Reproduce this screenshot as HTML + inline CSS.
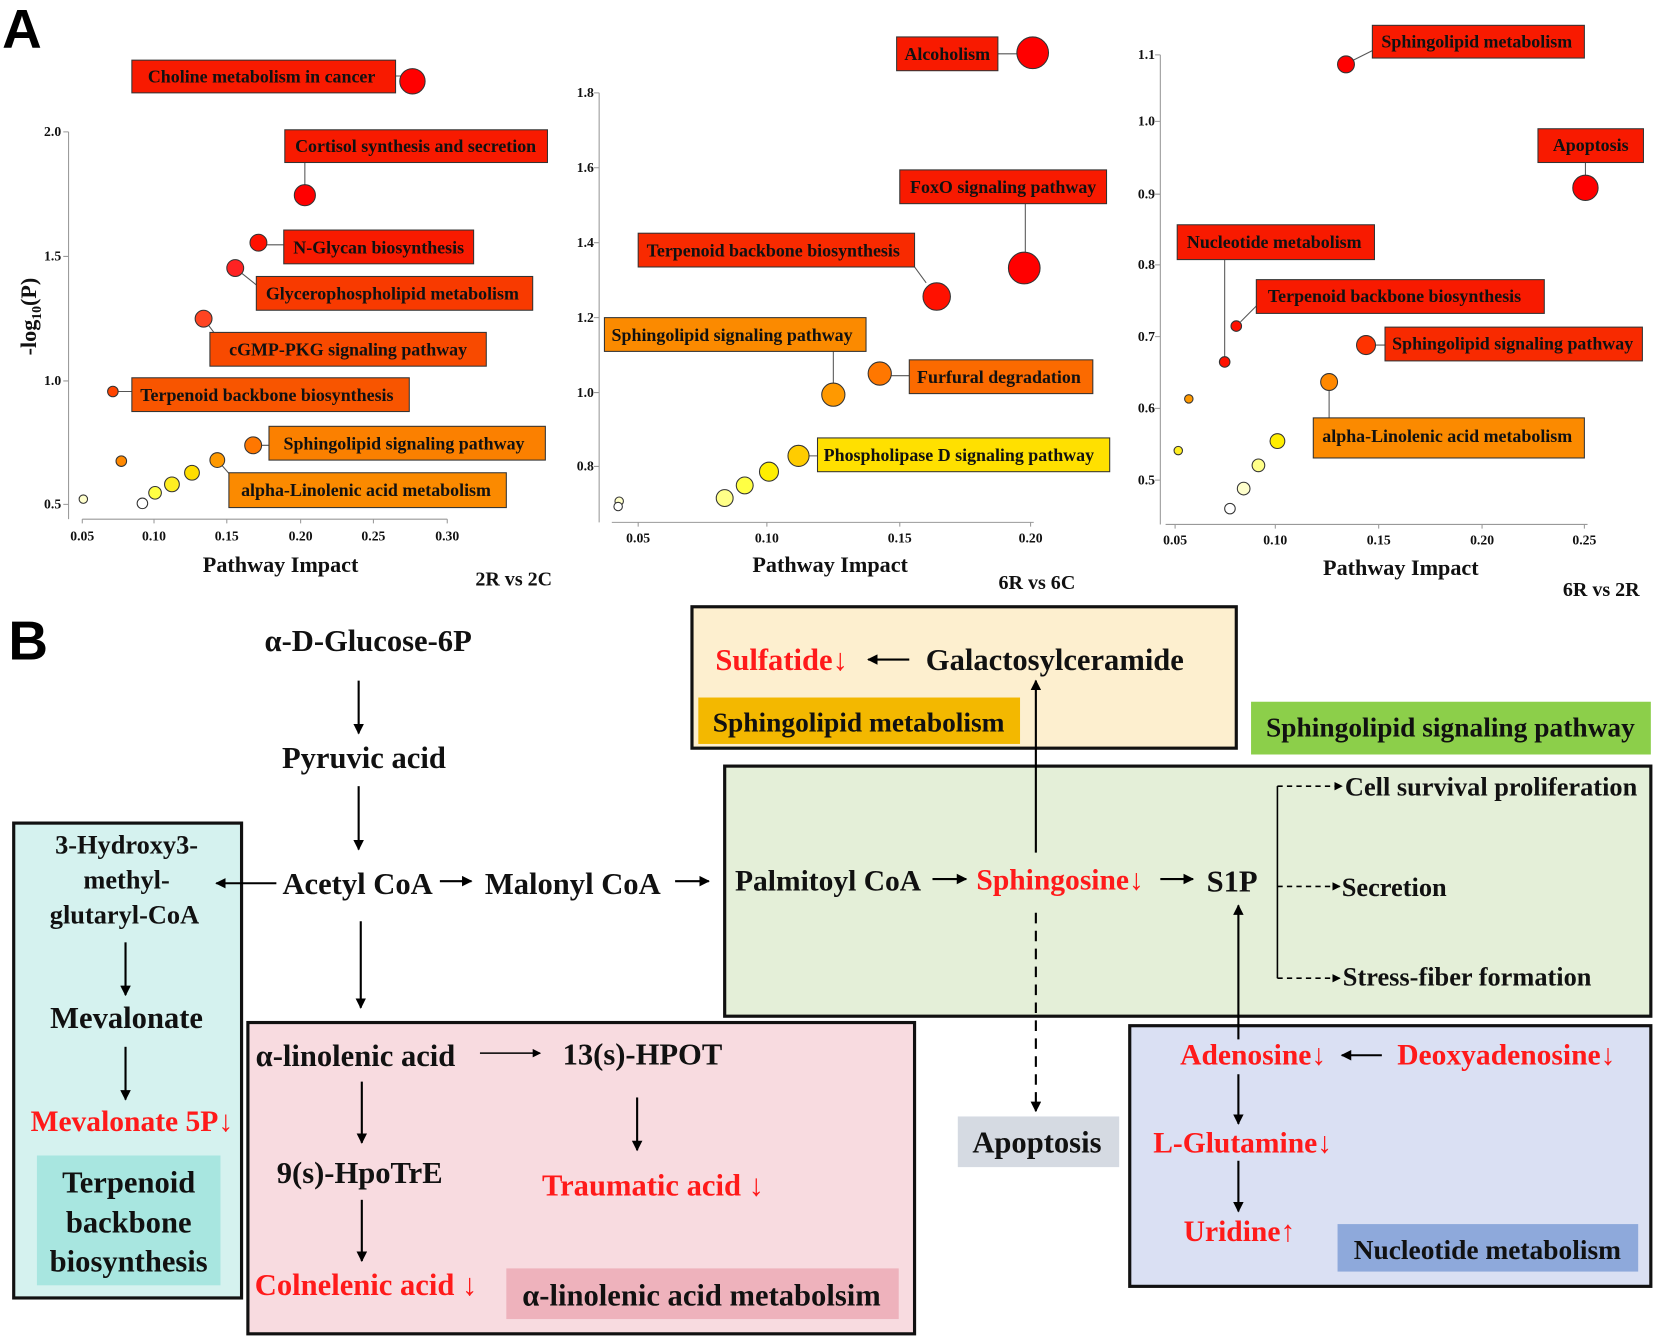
<!DOCTYPE html>
<html><head><meta charset="utf-8"><style>
html,body{margin:0;padding:0;background:#fff;}
svg{display:block;}
text{font-family:"Liberation Serif",serif;font-weight:bold;}
.s{font-size:17px;fill:#111;}
.t{font-size:13px;fill:#111;}
.ax{font-size:21px;fill:#111;}
.b{font-size:29px;fill:#111;}
.r{fill:#ff1a1a;}
</style></head><body>
<svg width="1654" height="1337" viewBox="0 0 1568 1267" preserveAspectRatio="none" xmlns="http://www.w3.org/2000/svg">
<defs>
<marker id="ah" markerWidth="10" markerHeight="10" refX="9" refY="5" orient="auto" markerUnits="userSpaceOnUse"><path d="M0,0 L10,5 L0,10 z" fill="#000"/></marker>
<marker id="ahs" markerWidth="8" markerHeight="8" refX="7" refY="4" orient="auto" markerUnits="userSpaceOnUse"><path d="M0,0 L8,4 L0,8 z" fill="#000"/></marker>
</defs>
<text x="2" y="45" style="font-family:'Liberation Sans',sans-serif;font-size:52px">A</text>
<text x="8" y="625" style="font-family:'Liberation Sans',sans-serif;font-size:52px">B</text>

<!-- Chart 1 -->
<g stroke="#999" stroke-width="1" fill="none">
<path d="M65,125 V492 M60,125 H65 M60,243 H65 M60,361 H65 M60,478 H65"/>
<path d="M78,492 H424 M78,492 v4 M146,492 v4 M215,492 v4 M285,492 v4 M354,492 v4 M424,492 v4"/>
</g>
<g class="t" text-anchor="end"><text x="58" y="129">2.0</text><text x="58" y="247">1.5</text><text x="58" y="365">1.0</text><text x="58" y="482">0.5</text></g>
<g class="t" text-anchor="middle"><text x="78" y="512">0.05</text><text x="146" y="512">0.10</text><text x="215" y="512">0.15</text><text x="285" y="512">0.20</text><text x="354" y="512">0.25</text><text x="424" y="512">0.30</text></g>
<text class="ax" x="266" y="542" text-anchor="middle">Pathway Impact</text>
<text class="ax" x="34" y="300" text-anchor="middle" transform="rotate(-90 34 300)">-log<tspan font-size="13" dy="5">10</tspan><tspan dy="-5">(P)</tspan></text>
<text class="ax" x="487" y="555" text-anchor="middle" style="font-size:19px">2R vs 2C</text>
<g stroke="#555" stroke-width="1">
<path d="M375,72 H380 M289,154 V175 M253,232 H269 M223,254 L243,270 M193,302 L205,318 M112,371 H125 M248,422 H255 M206,436 L220,452"/>
</g>
<g stroke="#333" stroke-width="1">
<rect x="125" y="57" width="250" height="31" fill="#f81a00"/>
<rect x="270" y="123" width="249" height="31" fill="#f81a00"/>
<rect x="269" y="218" width="180" height="32" fill="#f81a00"/>
<rect x="243" y="262" width="262" height="32" fill="#f83a00"/>
<rect x="199" y="315" width="262" height="32" fill="#f84a00"/>
<rect x="125" y="358" width="263" height="32" fill="#f85500"/>
<rect x="255" y="404" width="262" height="32" fill="#fb8000"/>
<rect x="217" y="448" width="263" height="33" fill="#fb8a00"/>
<circle cx="391" cy="77" r="12" fill="#f00"/>
<circle cx="289" cy="185" r="10" fill="#f00"/>
<circle cx="245" cy="230" r="8" fill="#f10"/>
<circle cx="223" cy="254" r="8" fill="#f22"/>
<circle cx="193" cy="302" r="8" fill="#f42"/>
<circle cx="107" cy="371" r="5" fill="#f40"/>
<circle cx="240" cy="422" r="8" fill="#f70"/>
<circle cx="206" cy="436" r="7" fill="#f90"/>
<circle cx="115" cy="437" r="5" fill="#f80"/>
<circle cx="79" cy="473" r="4" fill="#ffc"/>
<circle cx="135" cy="477" r="5" fill="#fff"/>
<circle cx="147" cy="467" r="6" fill="#ff4"/>
<circle cx="163" cy="459" r="7" fill="#fe2"/>
<circle cx="182" cy="448" r="7" fill="#fd0"/>
</g>
<g class="s" text-anchor="middle">
<text x="248" y="78">Choline metabolism in cancer</text>
<text x="394" y="144">Cortisol synthesis and secretion</text>
<text x="359" y="240">N-Glycan biosynthesis</text>
<text x="372" y="284">Glycerophospholipid metabolism</text>
<text x="330" y="337">cGMP-PKG signaling pathway</text>
<text x="253" y="380">Terpenoid backbone biosynthesis</text>
<text x="383" y="426">Sphingolipid signaling pathway</text>
<text x="347" y="470">alpha-Linolenic acid metabolism</text>
</g>

<!-- Chart 2 -->
<g stroke="#999" stroke-width="1" fill="none">
<path d="M568,88 V495 M563,88 H568 M563,159 H568 M563,230 H568 M563,301 H568 M563,372 H568 M563,442 H568"/>
<path d="M580,495 H980 M605,495 v4 M727,495 v4 M853,495 v4 M977,495 v4"/>
</g>
<g class="t" text-anchor="end"><text x="563" y="92">1.8</text><text x="563" y="163">1.6</text><text x="563" y="234">1.4</text><text x="563" y="305">1.2</text><text x="563" y="376">1.0</text><text x="563" y="446">0.8</text></g>
<g class="t" text-anchor="middle"><text x="605" y="514">0.05</text><text x="727" y="514">0.10</text><text x="853" y="514">0.15</text><text x="977" y="514">0.20</text></g>
<text class="ax" x="787" y="542" text-anchor="middle">Pathway Impact</text>
<text class="ax" x="983" y="558" text-anchor="middle" style="font-size:19px">6R vs 6C</text>
<g stroke="#555" stroke-width="1"><path d="M946,51 H964 M972,193 V239 M867,253 L878,268 M790,333 V363 M845,356 H862 M767,432 H775"/></g>
<g stroke="#333" stroke-width="1">
<rect x="850" y="35" width="96" height="32" fill="#f81a00"/>
<rect x="853" y="161" width="196" height="32" fill="#f81a00"/>
<rect x="605" y="221" width="262" height="32" fill="#f82a00"/>
<rect x="573" y="301" width="248" height="32" fill="#fb8a00"/>
<rect x="862" y="341" width="174" height="32" fill="#fb6a00"/>
<rect x="775" y="415" width="277" height="32" fill="#ffe000"/>
<circle cx="979" cy="50" r="15" fill="#f00"/>
<circle cx="971" cy="254" r="15" fill="#f00"/>
<circle cx="888" cy="281" r="13" fill="#f10"/>
<circle cx="790" cy="374" r="11" fill="#f90"/>
<circle cx="834" cy="354" r="11" fill="#f70"/>
<circle cx="757" cy="432" r="10" fill="#fc0"/>
<circle cx="729" cy="447" r="9" fill="#fe0"/>
<circle cx="706" cy="460" r="8" fill="#ff4"/>
<circle cx="687" cy="472" r="8" fill="#ff8"/>
<circle cx="587" cy="475" r="4" fill="#ffc"/>
<circle cx="586" cy="480" r="4" fill="#fff"/>
</g>
<g class="s" text-anchor="middle">
<text x="898" y="57">Alcoholism</text>
<text x="951" y="183">FoxO signaling pathway</text>
<text x="733" y="243">Terpenoid backbone biosynthesis</text>
<text x="694" y="323">Sphingolipid signaling pathway</text>
<text x="947" y="363">Furfural degradation</text>
<text x="909" y="437">Phospholipase D signaling pathway</text>
</g>

<!-- Chart 3 -->
<g stroke="#999" stroke-width="1" fill="none">
<path d="M1100,52 V497 M1095,52 H1100 M1095,115 H1100 M1095,184 H1100 M1095,251 H1100 M1095,319 H1100 M1095,387 H1100 M1095,455 H1100"/>
<path d="M1105,497 H1505 M1114,497 v4 M1209,497 v4 M1307,497 v4 M1405,497 v4 M1502,497 v4"/>
</g>
<g class="t" text-anchor="end"><text x="1095" y="56">1.1</text><text x="1095" y="119">1.0</text><text x="1095" y="188">0.9</text><text x="1095" y="255">0.8</text><text x="1095" y="323">0.7</text><text x="1095" y="391">0.6</text><text x="1095" y="459">0.5</text></g>
<g class="t" text-anchor="middle"><text x="1114" y="516">0.05</text><text x="1209" y="516">0.10</text><text x="1307" y="516">0.15</text><text x="1405" y="516">0.20</text><text x="1502" y="516">0.25</text></g>
<text class="ax" x="1328" y="545" text-anchor="middle">Pathway Impact</text>
<text class="ax" x="1518" y="565" text-anchor="middle" style="font-size:19px">6R vs 2R</text>
<g stroke="#555" stroke-width="1"><path d="M1283,57 L1301,48 M1503,154 V166 M1161,246 V338 M1176,305 L1191,290 M1304,327 H1313 M1260,370 V396"/></g>
<g stroke="#333" stroke-width="1">
<rect x="1301" y="24" width="201" height="31" fill="#f81a00"/>
<rect x="1458" y="122" width="100" height="32" fill="#f81a00"/>
<rect x="1116" y="213" width="187" height="33" fill="#f81a00"/>
<rect x="1191" y="265" width="273" height="32" fill="#f81a00"/>
<rect x="1313" y="310" width="244" height="32" fill="#f82a00"/>
<rect x="1245" y="396" width="257" height="38" fill="#fb8a00"/>
<circle cx="1276" cy="61" r="8" fill="#f00"/>
<circle cx="1503" cy="178" r="12" fill="#f00"/>
<circle cx="1161" cy="343" r="5" fill="#f10"/>
<circle cx="1172" cy="309" r="5" fill="#f10"/>
<circle cx="1295" cy="327" r="9" fill="#f30"/>
<circle cx="1260" cy="362" r="8" fill="#f80"/>
<circle cx="1127" cy="378" r="4" fill="#f90"/>
<circle cx="1117" cy="427" r="4" fill="#fe2"/>
<circle cx="1211" cy="418" r="7" fill="#fe0"/>
<circle cx="1193" cy="441" r="6" fill="#ff8"/>
<circle cx="1179" cy="463" r="6" fill="#ffc"/>
<circle cx="1166" cy="482" r="5" fill="#fff"/>
</g>
<g class="s" text-anchor="middle">
<text x="1400" y="45">Sphingolipid metabolism</text>
<text x="1508" y="143">Apoptosis</text>
<text x="1208" y="235">Nucleotide metabolism</text>
<text x="1322" y="286">Terpenoid backbone biosynthesis</text>
<text x="1434" y="331">Sphingolipid signaling pathway</text>
<text x="1372" y="419">alpha-Linolenic acid metabolism</text>
</g>

<!-- Panel B boxes -->
<g stroke="#111" stroke-width="3">
<rect x="13" y="780" width="216" height="450" fill="#d5f2ef"/>
<rect x="235" y="969" width="632" height="295" fill="#f8dbe0"/>
<rect x="656" y="575" width="516" height="134" fill="#fdefcf"/>
<rect x="687" y="726" width="878" height="237" fill="#e4efd8"/>
<rect x="1071" y="972" width="494" height="247" fill="#dae0f3"/>
</g>
<rect x="35" y="1095" width="174" height="123" fill="#a8e6e0"/>
<rect x="480" y="1202" width="372" height="48" fill="#eeb2bc"/>
<rect x="662" y="661" width="305" height="44" fill="#f3b800"/>
<rect x="1186" y="665" width="379" height="50" fill="#8ccf4a"/>
<rect x="908" y="1058" width="153" height="48" fill="#d5dae2"/>
<rect x="1268" y="1160" width="285" height="45" fill="#8ea9db"/>

<!-- arrows -->
<g stroke="#000" stroke-width="2" fill="none" marker-end="url(#ah)">
<path d="M340,645 V695"/><path d="M340,745 V805"/>
<path d="M417,835 H447"/><path d="M640,835 H672"/>
<path d="M262,837 H205"/>
<path d="M342,873 V955"/>
<path d="M119,893 V943"/><path d="M119,992 V1042"/>
<path d="M343,1025 V1083"/><path d="M343,1137 V1195"/>
<path d="M604,1040 V1090"/>
<path d="M862,625 H823"/>
<path d="M884,833 H916"/><path d="M1100,833 H1131"/>
<path d="M982,808 V645"/>
<path d="M1310,1000 H1272"/>
<path d="M1174,985 V858"/>
<path d="M1174,1018 V1065"/><path d="M1174,1100 V1148"/>
</g>
<path d="M455,998 H512" stroke="#000" stroke-width="1.5" marker-end="url(#ahs)"/>
<path d="M982,865 V1053" stroke="#000" stroke-width="2" stroke-dasharray="10,7" marker-end="url(#ah)"/>
<path d="M1211,745 V927" stroke="#000" stroke-width="1.5"/>
<g stroke="#000" stroke-width="1.5" stroke-dasharray="5,4" marker-end="url(#ahs)">
<path d="M1211,745 H1272"/><path d="M1211,840 H1270"/><path d="M1211,927 H1270"/>
</g>

<!-- B texts -->
<g class="b" text-anchor="middle">
<text x="349" y="617">α-D-Glucose-6P</text>
<text x="345" y="728">Pyruvic acid</text>
<text x="339" y="847">Acetyl CoA</text>
<text x="543" y="847">Malonyl CoA</text>
<text x="120" y="809" style="font-size:25px">3-Hydroxy3-</text>
<text x="120" y="842" style="font-size:25px">methyl-</text>
<text x="118" y="875" style="font-size:25px">glutaryl-CoA</text>
<text x="120" y="974">Mevalonate</text>
<text x="125" y="1072" class="r" style="font-size:28px">Mevalonate 5P↓</text>
<text x="122" y="1130">Terpenoid</text>
<text x="122" y="1168">backbone</text>
<text x="122" y="1205">biosynthesis</text>
<text x="337" y="1010">α-linolenic acid</text>
<text x="609" y="1009">13(s)-HPOT</text>
<text x="341" y="1121">9(s)-HpoTrE</text>
<text x="347" y="1227" class="r">Colnelenic acid ↓</text>
<text x="619" y="1133" class="r">Traumatic acid ↓</text>
<text x="665" y="1237">α-linolenic acid  metabolsim</text>
<text x="741" y="635" class="r">Sulfatide↓</text>
<text x="1000" y="635">Galactosylceramide</text>
<text x="814" y="693" style="font-size:26px">Sphingolipid metabolism</text>
<text x="1375" y="698" style="font-size:26px">Sphingolipid signaling pathway</text>
<text x="785" y="844" style="font-size:28px">Palmitoyl CoA</text>
<text x="1005" y="843" class="r" style="font-size:28px">Sphingosine↓</text>
<text x="1168" y="845">S1P</text>
<text x="983" y="1092">Apoptosis</text>
<text x="1188" y="1009" class="r" style="font-size:28px">Adenosine↓</text>
<text x="1428" y="1009" class="r" style="font-size:28px">Deoxyadenosine↓</text>
<text x="1178" y="1092" class="r" style="font-size:28px">L-Glutamine↓</text>
<text x="1175" y="1176" class="r" style="font-size:28px">Uridine↑</text>
<text x="1410" y="1193" style="font-size:26px">Nucleotide metabolism</text>
</g>
<g class="b" style="font-size:25px">
<text x="1275" y="754">Cell survival proliferation</text>
<text x="1272" y="849">Secretion</text>
<text x="1273" y="934">Stress-fiber formation</text>
</g>
</svg>
</body></html>
